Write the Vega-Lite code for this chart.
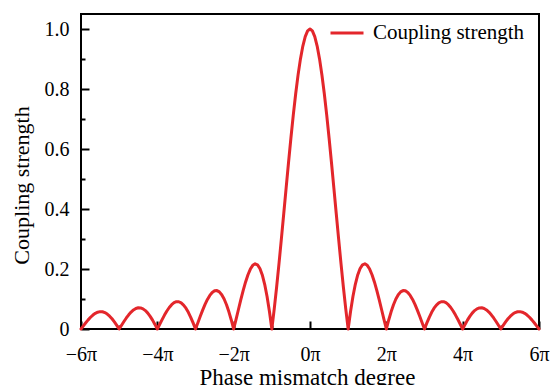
{
  "$schema": "https://vega.github.io/schema/vega-lite/v6.json",
  "width": 458,
  "height": 315,
  "autosize": {"type": "none"},
  "padding": {"left": 81, "top": 14, "right": 14, "bottom": 56},
  "background": "white",
  "config": {
    "view": {"stroke": "#000000", "strokeWidth": 2},
    "font": "Liberation Serif"
  },
  "data": {
    "values": [
      {"x": -6, "y": 0}, {"x": -5.9375, "y": 0.01046}, {"x": -5.875, "y": 0.02073}, {"x": -5.8125, "y": 0.03042},
      {"x": -5.75, "y": 0.03914}, {"x": -5.6875, "y": 0.04653}, {"x": -5.625, "y": 0.05228}, {"x": -5.5625, "y": 0.05612},
      {"x": -5.5, "y": 0.05787}, {"x": -5.4375, "y": 0.05742}, {"x": -5.375, "y": 0.05471}, {"x": -5.3125, "y": 0.04982},
      {"x": -5.25, "y": 0.04287}, {"x": -5.1875, "y": 0.03409}, {"x": -5.125, "y": 0.02377}, {"x": -5.0625, "y": 0.01227},
      {"x": -5, "y": 0}, {"x": -4.9375, "y": 0.01258}, {"x": -4.875, "y": 0.02499}, {"x": -4.8125, "y": 0.03675},
      {"x": -4.75, "y": 0.04738}, {"x": -4.6875, "y": 0.05646}, {"x": -4.625, "y": 0.06358}, {"x": -4.5625, "y": 0.06843},
      {"x": -4.5, "y": 0.07074}, {"x": -4.4375, "y": 0.07035}, {"x": -4.375, "y": 0.06722}, {"x": -4.3125, "y": 0.06137},
      {"x": -4.25, "y": 0.05296}, {"x": -4.1875, "y": 0.04223}, {"x": -4.125, "y": 0.02953}, {"x": -4.0625, "y": 0.01529},
      {"x": -4, "y": 0}, {"x": -3.9375, "y": 0.01577}, {"x": -3.875, "y": 0.03144}, {"x": -3.8125, "y": 0.04639},
      {"x": -3.75, "y": 0.06002}, {"x": -3.6875, "y": 0.07177}, {"x": -3.625, "y": 0.08113}, {"x": -3.5625, "y": 0.08763},
      {"x": -3.5, "y": 0.09095}, {"x": -3.4375, "y": 0.09082}, {"x": -3.375, "y": 0.08713}, {"x": -3.3125, "y": 0.0799},
      {"x": -3.25, "y": 0.06926}, {"x": -3.1875, "y": 0.05548}, {"x": -3.125, "y": 0.03898}, {"x": -3.0625, "y": 0.02028},
      {"x": -3, "y": 0}, {"x": -2.9375, "y": 0.02114}, {"x": -2.875, "y": 0.04237}, {"x": -2.8125, "y": 0.06288},
      {"x": -2.75, "y": 0.08185}, {"x": -2.6875, "y": 0.09848}, {"x": -2.625, "y": 0.11203}, {"x": -2.5625, "y": 0.12183},
      {"x": -2.5, "y": 0.12732}, {"x": -2.4375, "y": 0.12808}, {"x": -2.375, "y": 0.12382}, {"x": -2.3125, "y": 0.11445},
      {"x": -2.25, "y": 0.10004}, {"x": -2.1875, "y": 0.08084}, {"x": -2.125, "y": 0.05732}, {"x": -2.0625, "y": 0.03011},
      {"x": -2, "y": 0}, {"x": -1.9375, "y": 0.03205}, {"x": -1.875, "y": 0.06497}, {"x": -1.8125, "y": 0.09757},
      {"x": -1.75, "y": 0.12862}, {"x": -1.6875, "y": 0.15684}, {"x": -1.625, "y": 0.18097}, {"x": -1.5625, "y": 0.19981},
      {"x": -1.5, "y": 0.21221}, {"x": -1.4375, "y": 0.21718}, {"x": -1.375, "y": 0.21388}, {"x": -1.3125, "y": 0.20165},
      {"x": -1.25, "y": 0.18006}, {"x": -1.1875, "y": 0.14892}, {"x": -1.125, "y": 0.10828}, {"x": -1.0625, "y": 0.05845},
      {"x": -1, "y": 0}, {"x": -0.9375, "y": 0.06624}, {"x": -0.875, "y": 0.13921}, {"x": -0.8125, "y": 0.21765},
      {"x": -0.75, "y": 0.30011}, {"x": -0.6875, "y": 0.38497}, {"x": -0.625, "y": 0.47053}, {"x": -0.5625, "y": 0.55501},
      {"x": -0.5, "y": 0.63662}, {"x": -0.4375, "y": 0.71358}, {"x": -0.375, "y": 0.78421}, {"x": -0.3125, "y": 0.84693},
      {"x": -0.25, "y": 0.90032}, {"x": -0.1875, "y": 0.94316}, {"x": -0.125, "y": 0.97449}, {"x": -0.0625, "y": 0.99359},
      {"x": 0, "y": 1.0},
      {"x": 0.0625, "y": 0.99359}, {"x": 0.125, "y": 0.97449}, {"x": 0.1875, "y": 0.94316}, {"x": 0.25, "y": 0.90032},
      {"x": 0.3125, "y": 0.84693}, {"x": 0.375, "y": 0.78421}, {"x": 0.4375, "y": 0.71358}, {"x": 0.5, "y": 0.63662},
      {"x": 0.5625, "y": 0.55501}, {"x": 0.625, "y": 0.47053}, {"x": 0.6875, "y": 0.38497}, {"x": 0.75, "y": 0.30011},
      {"x": 0.8125, "y": 0.21765}, {"x": 0.875, "y": 0.13921}, {"x": 0.9375, "y": 0.06624}, {"x": 1, "y": 0},
      {"x": 1.0625, "y": 0.05845}, {"x": 1.125, "y": 0.10828}, {"x": 1.1875, "y": 0.14892}, {"x": 1.25, "y": 0.18006},
      {"x": 1.3125, "y": 0.20165}, {"x": 1.375, "y": 0.21388}, {"x": 1.4375, "y": 0.21718}, {"x": 1.5, "y": 0.21221},
      {"x": 1.5625, "y": 0.19981}, {"x": 1.625, "y": 0.18097}, {"x": 1.6875, "y": 0.15684}, {"x": 1.75, "y": 0.12862},
      {"x": 1.8125, "y": 0.09757}, {"x": 1.875, "y": 0.06497}, {"x": 1.9375, "y": 0.03205}, {"x": 2, "y": 0},
      {"x": 2.0625, "y": 0.03011}, {"x": 2.125, "y": 0.05732}, {"x": 2.1875, "y": 0.08084}, {"x": 2.25, "y": 0.10004},
      {"x": 2.3125, "y": 0.11445}, {"x": 2.375, "y": 0.12382}, {"x": 2.4375, "y": 0.12808}, {"x": 2.5, "y": 0.12732},
      {"x": 2.5625, "y": 0.12183}, {"x": 2.625, "y": 0.11203}, {"x": 2.6875, "y": 0.09848}, {"x": 2.75, "y": 0.08185},
      {"x": 2.8125, "y": 0.06288}, {"x": 2.875, "y": 0.04237}, {"x": 2.9375, "y": 0.02114}, {"x": 3, "y": 0},
      {"x": 3.0625, "y": 0.02028}, {"x": 3.125, "y": 0.03898}, {"x": 3.1875, "y": 0.05548}, {"x": 3.25, "y": 0.06926},
      {"x": 3.3125, "y": 0.0799}, {"x": 3.375, "y": 0.08713}, {"x": 3.4375, "y": 0.09082}, {"x": 3.5, "y": 0.09095},
      {"x": 3.5625, "y": 0.08763}, {"x": 3.625, "y": 0.08113}, {"x": 3.6875, "y": 0.07177}, {"x": 3.75, "y": 0.06002},
      {"x": 3.8125, "y": 0.04639}, {"x": 3.875, "y": 0.03144}, {"x": 3.9375, "y": 0.01577}, {"x": 4, "y": 0},
      {"x": 4.0625, "y": 0.01529}, {"x": 4.125, "y": 0.02953}, {"x": 4.1875, "y": 0.04223}, {"x": 4.25, "y": 0.05296},
      {"x": 4.3125, "y": 0.06137}, {"x": 4.375, "y": 0.06722}, {"x": 4.4375, "y": 0.07035}, {"x": 4.5, "y": 0.07074},
      {"x": 4.5625, "y": 0.06843}, {"x": 4.625, "y": 0.06358}, {"x": 4.6875, "y": 0.05646}, {"x": 4.75, "y": 0.04738},
      {"x": 4.8125, "y": 0.03675}, {"x": 4.875, "y": 0.02499}, {"x": 4.9375, "y": 0.01258}, {"x": 5, "y": 0},
      {"x": 5.0625, "y": 0.01227}, {"x": 5.125, "y": 0.02377}, {"x": 5.1875, "y": 0.03409}, {"x": 5.25, "y": 0.04287},
      {"x": 5.3125, "y": 0.04982}, {"x": 5.375, "y": 0.05471}, {"x": 5.4375, "y": 0.05742}, {"x": 5.5, "y": 0.05787},
      {"x": 5.5625, "y": 0.05612}, {"x": 5.625, "y": 0.05228}, {"x": 5.6875, "y": 0.04653}, {"x": 5.75, "y": 0.03914},
      {"x": 5.8125, "y": 0.03042}, {"x": 5.875, "y": 0.02073}, {"x": 5.9375, "y": 0.01046}, {"x": 6, "y": 0}
    ]
  },
  "mark": {"type": "line", "strokeWidth": 3, "strokeJoin": "round", "strokeCap": "round", "clip": false},
  "encoding": {
    "x": {
      "field": "x",
      "type": "quantitative",
      "scale": {"domain": [-6, 6], "nice": false, "zero": false},
      "axis": {
        "values": [-6, -5, -4, -3, -2, -1, 0, 1, 2, 3, 4, 5, 6],
        "labelExpr": "datum.value % 2 == 0 ? (datum.value < 0 ? '−' : '') + abs(datum.value) + 'π' : ''",
        "domain": false,
        "grid": false,
        "tickColor": "#000000",
        "tickWidth": 2,
        "tickSize": {"condition": {"test": "datum.value % 2 == 0", "value": -8}, "value": -4},
        "labelPadding": 23,
        "labelFont": "Liberation Serif",
        "labelFontSize": 20,
        "labelColor": "#000000",
        "labelFlush": false,
        "labelOverlap": false,
        "title": "Phase mismatch degree",
        "titleFont": "Liberation Serif",
        "titleFontSize": 23,
        "titleFontWeight": "normal",
        "titleColor": "#000000",
        "titleX": 226,
        "titleY": 37
      }
    },
    "y": {
      "field": "y",
      "type": "quantitative",
      "scale": {"domain": [0, 1.05], "nice": false},
      "axis": {
        "values": [0, 0.1, 0.2, 0.3, 0.4, 0.5, 0.6, 0.7, 0.8, 0.9, 1.0],
        "labelExpr": "datum.value == 0 ? '0' : (round(datum.value * 10) % 2 == 0 ? format(datum.value, '.1f') : '')",
        "domain": false,
        "grid": false,
        "tickColor": "#000000",
        "tickWidth": 2,
        "tickSize": {"condition": {"test": "round(datum.value * 10) % 2 == 0", "value": -8}, "value": -4},
        "labelPadding": 20,
        "labelFont": "Liberation Serif",
        "labelFontSize": 20,
        "labelColor": "#000000",
        "labelFlush": false,
        "labelOverlap": false,
        "title": "Coupling strength",
        "titleFont": "Liberation Serif",
        "titleFontSize": 22,
        "titleFontWeight": "normal",
        "titleColor": "#000000",
        "titleX": -48,
        "titleY": 171
      }
    },
    "color": {
      "datum": "Coupling strength",
      "type": "nominal",
      "scale": {"range": ["#e3262b"]},
      "legend": {
        "title": null,
        "orient": "none",
        "legendX": 248,
        "legendY": 1,
        "padding": 0,
        "symbolType": "stroke",
        "symbolSize": 1089,
        "symbolStrokeWidth": 3,
        "labelFont": "Liberation Serif",
        "labelFontSize": 21,
        "labelColor": "#000000",
        "labelOffset": 8
      }
    }
  }
}
